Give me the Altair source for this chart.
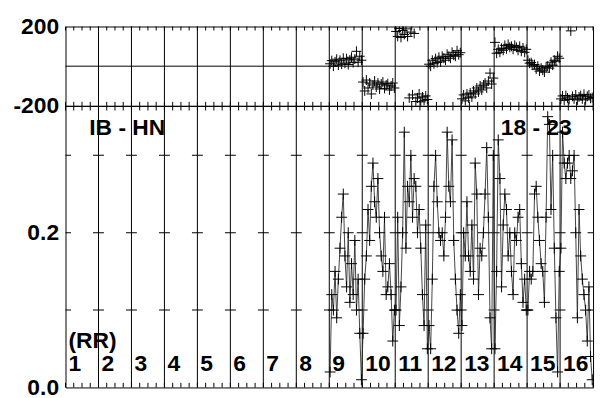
import altair as alt
import pandas as pd

# ---- data -------------------------------------------------------------------
SEGMENTS = [9, 10, 11, 12, 13, 14, 15, 16]
N_PER_SEG = 20

coh_9 = [0.02, 0.12, 0.10, 0.15, 0.09, 0.14, 0.18, 0.22, 0.25, 0.17, 0.13, 0.20, 0.11, 0.16, 0.12, 0.19, 0.10, 0.14, 0.07, 0.01]
coh_10 = [0.07, 0.14, 0.17, 0.23, 0.19, 0.26, 0.29, 0.24, 0.22, 0.27, 0.20, 0.17, 0.15, 0.22, 0.12, 0.13, 0.16, 0.12, 0.06, 0.10]
coh_11 = [0.10, 0.22, 0.08, 0.13, 0.20, 0.33, 0.18, 0.26, 0.24, 0.30, 0.22, 0.27, 0.26, 0.20, 0.23, 0.18, 0.12, 0.08, 0.21, 0.05]
coh_12 = [0.08, 0.05, 0.14, 0.26, 0.30, 0.24, 0.20, 0.19, 0.20, 0.17, 0.22, 0.33, 0.26, 0.24, 0.32, 0.19, 0.14, 0.10, 0.07, 0.12]
coh_13 = [0.08, 0.20, 0.17, 0.24, 0.17, 0.15, 0.21, 0.14, 0.29, 0.25, 0.12, 0.18, 0.17, 0.20, 0.25, 0.31, 0.22, 0.09, 0.05, 0.30]
coh_14 = [0.05, 0.15, 0.32, 0.27, 0.13, 0.21, 0.25, 0.23, 0.17, 0.20, 0.15, 0.12, 0.20, 0.19, 0.22, 0.23, 0.16, 0.11, 0.14, 0.10]
coh_15 = [0.10, 0.15, 0.14, 0.15, 0.25, 0.26, 0.22, 0.19, 0.16, 0.15, 0.11, 0.22, 0.35, 0.34, 0.23, 0.30, 0.18, 0.09, 0.02, 0.15]
coh_16 = [0.18, 0.33, 0.29, 0.27, 0.29, 0.30, 0.27, 0.28, 0.30, 0.20, 0.09, 0.23, 0.17, 0.14, 0.12, 0.10, 0.06, 0.13, 0.04, 0.01]

ph_9 = [12, 28, 0, 22, 35, 5, 30, 10, 40, 15, 38, 8, 32, 45, 18, 36, 75, 20, 50, 30]
ph_10 = [-80, -125, -70, -110, -85, -140, -95, -75, -105, -85, -115, -90, -80, -112, -95, -88, -120, -100, -85, -110]
ph_11 = [175, 150, 190, 145, 180, 160, 188, 150, -160, 172, -145, 165, -178, -160, -140, -180, -155, -172, -150, -168]
ph_12 = [10, 0, 30, 12, 38, 18, 45, 22, 50, 40, 30, 60, 48, 40, 70, 55, 50, 78, 58, 68]
ph_13 = [-165, -145, -175, -140, -160, -135, -155, -125, -140, -110, -130, -100, -120, -95, -85, -110, -75, -35, -90, -60]
ph_14 = [120, 65, 85, 70, 90, 80, 105, 88, 110, 95, 100, 85, 105, 95, 80, 100, 75, 92, 70, 85]
ph_15 = [30, 15, 18, 5, 8, -15, 0, -25, -10, -20, -30, -5, 0, -10, 20, 5, 30, 25, 50, 40]
ph_16 = [-165, -150, -172, -148, -160, -168, 178, -152, -165, -145, -170, -155, -148, -165, -142, -170, -152, -145, -162, -158]

SEG_LABELS = [str(k) for k in range(1, 17)]
LEFT_TITLE = "IB - HN"
RIGHT_TITLE = "18 - 23"
UNIT_LABEL = "(RR)"

coh_lists = [coh_9, coh_10, coh_11, coh_12, coh_13, coh_14, coh_15, coh_16]
ph_lists = [ph_9, ph_10, ph_11, ph_12, ph_13, ph_14, ph_15, ph_16]

rows = []
for s, cl, pl in zip(SEGMENTS, coh_lists, ph_lists):
    for i in range(N_PER_SEG):
        rows.append({"x": s - 1 + (i + 0.5) / N_PER_SEG, "coh": cl[i], "phase": pl[i]})
df = pd.DataFrame(rows)

# ---- styling ----------------------------------------------------------------
FONT = "Liberation Sans"
CROSS = "M-1,0L1,0M0,-1L0,1"
W = 532

xs = alt.Scale(domain=[0, 16], nice=False, zero=False)
ys_top = alt.Scale(domain=[-200, 200], nice=False, zero=False)
ys_bot = alt.Scale(domain=[0, 0.364], nice=False, zero=False)

axis_common = dict(title=None, domain=False, ticks=False, grid=False, labelFont=FONT,
                   labelFontWeight="bold", labelFontSize=23, labelColor="black",
                   labelPadding=7, minExtent=52, maxExtent=52)
yaxis_top = alt.Axis(values=[-200, 200],
                     labelExpr="datum.value < 0 ? '-' + abs(datum.value) : '' + datum.value",
                     **axis_common)
yaxis_bot = alt.Axis(values=[0, 0.2], format=".1f", **axis_common)

grid_df = pd.DataFrame({"x": list(range(1, 16))})
minor = [k / 4 for k in range(0, 65)]

# ---- top panel (phase) ------------------------------------------------------
top_ticks = pd.DataFrame({"x": minor * 2,
                          "y": [200] * len(minor) + [-200] * len(minor),
                          "y2": [180] * len(minor) + [-180] * len(minor)})

t_grid = alt.Chart(grid_df).mark_rule(color="black", strokeWidth=1).encode(
    x=alt.X("x:Q", scale=xs, axis=None))
t_zero = alt.Chart(pd.DataFrame({"y": [0]})).mark_rule(color="black", strokeWidth=1).encode(
    y=alt.Y("y:Q", scale=ys_top, axis=yaxis_top))
t_ticks = alt.Chart(top_ticks).mark_rule(color="black", strokeWidth=1).encode(
    x=alt.X("x:Q", scale=xs, axis=None),
    y=alt.Y("y:Q", scale=ys_top, axis=yaxis_top), y2="y2:Q")
t_pts = alt.Chart(df).mark_point(shape=CROSS, size=100, filled=False, color="black",
                                 strokeWidth=1, opacity=1, clip=True).encode(
    x=alt.X("x:Q", scale=xs, axis=None),
    y=alt.Y("phase:Q", scale=ys_top, axis=yaxis_top))

top = alt.layer(t_grid, t_zero, t_ticks, t_pts).properties(width=W, height=80)

# ---- bottom panel (coherence) -----------------------------------------------
bot_ticks = pd.DataFrame({"x": minor * 2,
                          "y": [0.364] * len(minor) + [0.0] * len(minor),
                          "y2": [0.358] * len(minor) + [0.006] * len(minor)})
dash_df = pd.DataFrame([{"x": k, "y": v} for k in range(17) for v in (0.1, 0.2, 0.3)])

text_df = pd.DataFrame(
    [{"x": 0.72, "y": 0.335, "t": LEFT_TITLE},
     {"x": 13.2, "y": 0.335, "t": RIGHT_TITLE},
     {"x": 0.09, "y": 0.060, "t": UNIT_LABEL}]
    + [{"x": k + 0.09, "y": 0.030, "t": lab} for k, lab in enumerate(SEG_LABELS)])

b_grid = alt.Chart(grid_df).mark_rule(color="black", strokeWidth=1).encode(
    x=alt.X("x:Q", scale=xs, axis=None))
b_dash = alt.Chart(dash_df).mark_tick(orient="horizontal", size=11, thickness=1,
                                      color="black", opacity=1, clip=True).encode(
    x=alt.X("x:Q", scale=xs, axis=None),
    y=alt.Y("y:Q", scale=ys_bot, axis=yaxis_bot))
b_ticks = alt.Chart(bot_ticks).mark_rule(color="black", strokeWidth=1).encode(
    x=alt.X("x:Q", scale=xs, axis=None),
    y=alt.Y("y:Q", scale=ys_bot, axis=yaxis_bot), y2="y2:Q")
b_line = alt.Chart(df).mark_line(color="#222222", strokeWidth=1, opacity=0.85, clip=True).encode(
    x=alt.X("x:Q", scale=xs, axis=None),
    y=alt.Y("coh:Q", scale=ys_bot, axis=yaxis_bot),
    order="x:Q")
b_pts = alt.Chart(df).mark_point(shape=CROSS, size=121, filled=False, color="black",
                                 strokeWidth=1, opacity=1, clip=True).encode(
    x=alt.X("x:Q", scale=xs, axis=None),
    y=alt.Y("coh:Q", scale=ys_bot, axis=yaxis_bot))
b_text = alt.Chart(text_df).mark_text(align="left", baseline="middle", font=FONT,
                                      fontWeight="bold", fontSize=23, color="black").encode(
    x=alt.X("x:Q", scale=xs, axis=None),
    y=alt.Y("y:Q", scale=ys_bot, axis=yaxis_bot),
    text="t:N")

bottom = alt.layer(b_grid, b_dash, b_ticks, b_line, b_pts, b_text).properties(width=W, height=284)

chart = (alt.vconcat(top, bottom, spacing=0, bounds="flush")
         .properties(padding={"left": 4, "top": 5, "right": 5, "bottom": 0}, background="white")
         .configure_view(stroke="black", strokeWidth=1))

chart.save("out.html", embed_options={"renderer": "svg", "actions": False})
